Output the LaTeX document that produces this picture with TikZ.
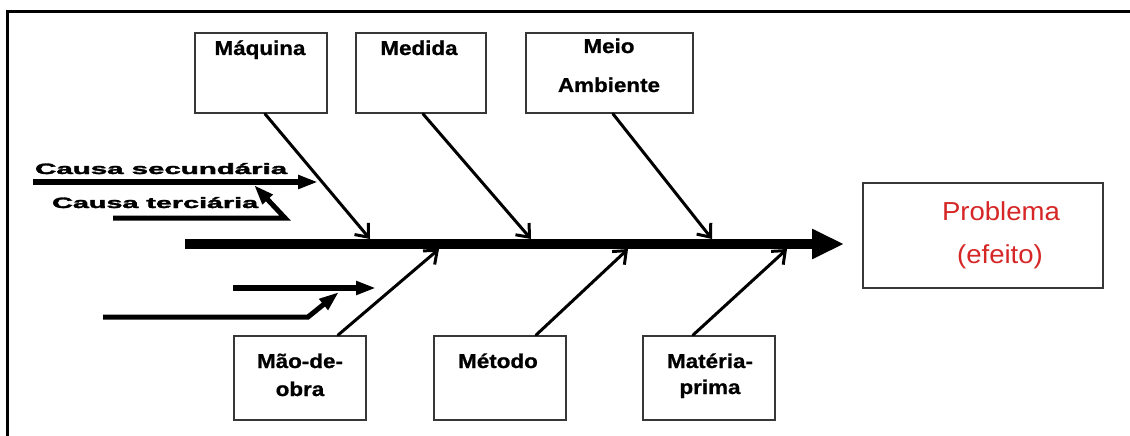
\documentclass[tikz,border=0pt]{standalone}
\usepackage{fontspec}
\setmainfont{Liberation Sans}
\newfontfamily\labelfont{Liberation Sans}[BoldFeatures={FakeBold=0.8}]
\newfontfamily\heavyfont{Liberation Sans}[BoldFeatures={FakeBold=2}]
\usetikzlibrary{arrows.meta}

\definecolor{boxline}{RGB}{55,55,55}
\definecolor{effred}{RGB}{214,38,38}

% horizontally widened bold label
\newcommand{\catlabel}[1]{\scalebox{1.12}[1]{\fontsize{20}{22}\selectfont\labelfont\bfseries #1}}
% heavy, stretched label of a sub-cause arrow
\newcommand{\subcause}[2]{\resizebox{#1}{\height}{\fontsize{15}{15}\selectfont\heavyfont\bfseries #2}}

\begin{document}
\begin{tikzpicture}[x=1pt,y=-1pt,
  catbox/.style={draw=boxline, line width=1.8pt, fill=white, inner sep=0pt},
  lbl/.style={anchor=base, inner sep=0pt},
  spineline/.style={line width=10pt, -{Triangle[length=32pt,width=28pt]}},
  causeline/.style={line width=3pt, line cap=round,
    -{Straight Barb[length=11pt,width=18pt,line width=3pt]}},
  subline/.style={line width=5.5pt, -{Triangle[length=20pt,width=13pt]}},
]
\useasboundingbox (0,0) rectangle (1130,436);

% outer frame (open at right and bottom)
\draw[line width=3pt] (7,436) -- (7,12) -- (1130,12);

% category boxes
\node[catbox, minimum width=132pt, minimum height=80pt] (maq) at (261,73) {};
\node[catbox, minimum width=130pt, minimum height=80pt] (med) at (421,73) {};
\node[catbox, minimum width=167pt, minimum height=80pt] (amb) at (609.5,73) {};
\node[catbox, minimum width=132pt, minimum height=84pt] (mao) at (300,378) {};
\node[catbox, minimum width=132pt, minimum height=84pt] (met) at (500,378) {};
\node[catbox, minimum width=132pt, minimum height=84pt] (mat) at (709,378) {};

% effect box
\node[catbox, minimum width=240pt, minimum height=105pt] (prob) at (983,235.5) {};

% category labels
\node[lbl] at (260,55) {\catlabel{Máquina}};
\node[lbl] at (419,55) {\catlabel{Medida}};
\node[lbl] at (609,53) {\catlabel{Meio}};
\node[lbl] at (609,92) {\catlabel{Ambiente}};
\node[lbl] at (300,368) {\catlabel{Mão-de-}};
\node[lbl] at (300,396) {\catlabel{obra}};
\node[lbl] at (498,368) {\catlabel{Método}};
\node[lbl] at (710,368) {\catlabel{Matéria-}};
\node[lbl] at (710,394) {\catlabel{prima}};

% effect label
\node[lbl, text=effred] at (1001,220) {\scalebox{1.06}[1]{\fontsize{26}{28}\selectfont Problema}};
\node[lbl, text=effred] at (1000,263) {\scalebox{1.06}[1]{\fontsize{26}{28}\selectfont (efeito)}};

% spine
\coordinate (tail) at (185,244);
\draw[spineline, shorten >=18pt] (tail) -- (tail -| prob.west);

% arrow ends on the spine
\coordinate (t1) at (370,239);
\coordinate (t2) at (531,239);
\coordinate (t3) at (712,239);
\coordinate (b1) at (439,249);
\coordinate (b2) at (628,249);
\coordinate (b3) at (787,249);

% main causes
\draw[causeline] ([xshift=4pt]maq.south) -- (t1);
\draw[causeline] ([xshift=2pt]med.south) -- (t2);
\draw[causeline] ([xshift=3.5pt]amb.south) -- (t3);
\draw[causeline] ([xshift=38pt]mao.north) -- (b1);
\draw[causeline] ([xshift=36pt]met.north) -- (b2);
\draw[causeline] ([xshift=-16pt]mat.north) -- (b3);

% secondary and tertiary causes
\node[anchor=base west, inner sep=0pt] (sec) at (35,174) {\subcause{252pt}{Causa secundária}};
\node[anchor=base west, inner sep=0pt] (ter) at (52,208) {\subcause{206pt}{Causa terciária}};

\coordinate (s0) at (33,182);
\coordinate (s1) at (318,182);
\draw[subline] (s0) -- (s1);

\coordinate (r0) at (113,218);
\coordinate (r1) at (285,218);
\coordinate (r2) at (254,185);
\draw[subline, line width=5pt, line join=miter] (r0) -- (r1) -- (r2);

\coordinate (u0) at (233,288);
\coordinate (u1) at (376,288);
\draw[subline] (u0) -- (u1);

\coordinate (v0) at (103,317);
\coordinate (v1) at (308,317);
\coordinate (v2) at (339,292);
\draw[subline, line width=5pt, line join=miter] (v0) -- (v1) -- (v2);
\end{tikzpicture}
\end{document}
